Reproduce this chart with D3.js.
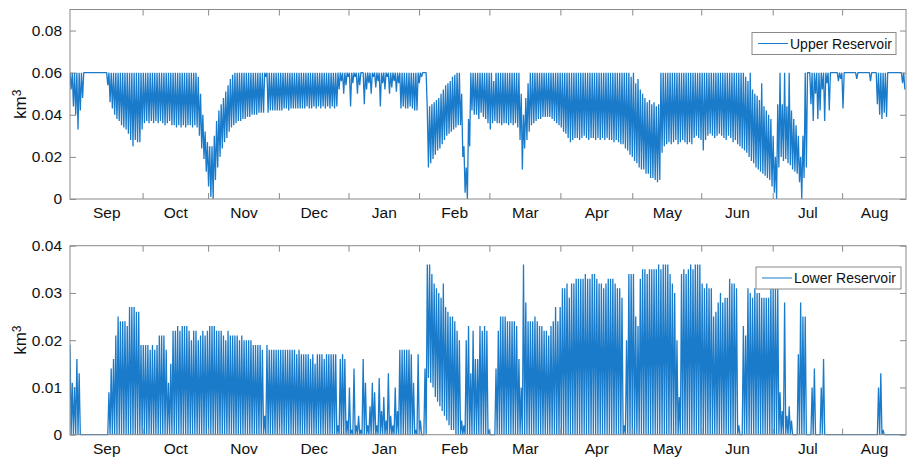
<!DOCTYPE html>
<html><head><meta charset="utf-8">
<script src="https://cdn.jsdelivr.net/npm/d3@7"></script>
<style>
body{margin:0;background:#fff}
svg{display:block}
text{font-family:"Liberation Sans",Arial,Helvetica,sans-serif;fill:#111}
</style>
</head><body>
<svg id="c" width="907" height="462"></svg>
<script>
// ---- data (storage volumes, in units of 0.001 km³; one daily max / min per day, day 0 … 364) ----
const UNIT = 0.001;
const monthLabels = ["Sep","Oct","Nov","Dec","Jan","Feb","Mar","Apr","May","Jun","Jul","Aug"];
const monthTicks = [31.7, 60.3, 91.2, 121.6, 152.4, 183.1, 214.1, 245.5, 275.6, 306.8, 337.1];
const upperTicks = [0, 0.02, 0.04, 0.06, 0.08];
const lowerTicks = [0, 0.01, 0.02, 0.03, 0.04];

const upperMax = [
60,60,60,60,60,60,60,60,60,60, 60,60,60,60,60,60,60,60,60,60,
60,60,60,60,60,60,60,60,60,60, 60,60,60,60,60,60,60,60,60,60,
60,60,60,60,60,60,60,60,60,60, 60,60,60,60,60,60,58,50,40,32,
27,25,25,30,37,42,45,48,51,54, 57,59,60,60,60,60,60,60,60,60,
60,60,60,60,60,60,60,60,60,60, 60,60,60,60,60,60,60,60,60,60,
60,60,60,60,60,60,60,60,60,60, 60,60,60,60,60,60,60,60,60,60,
60,60,60,60,60,60,60,60,60,60, 60,60,60,60,60,60,60,60,60,60,
60,60,60,60,60,60,60,60,60,60, 60,60,60,60,60,60,42,44,45,46,
47,48,50,52,54,55,56,58,59,60, 60,50,25,15,38,60,60,60,60,60,
60,60,60,60,60,56,60,60,60,60, 60,60,60,60,60,60,60,50,40,48,
55,60,60,60,60,60,60,60,60,60, 60,60,60,60,60,60,60,60,60,60,
60,60,60,60,60,60,60,60,60,60, 60,60,60,60,60,60,60,60,60,60,
60,60,60,60,60,58,60,55,57,52, 50,48,46,47,45,46,44,45,60,60,
60,60,60,60,60,60,60,60,60,60, 60,60,60,60,60,60,60,60,60,60,
60,60,60,60,60,60,60,60,60,60, 60,60,60,60,60,58,56,60,52,50,
49,47,55,44,42,40,38,30,20,45, 60,45,60,44,60,42,38,35,30,20,
30,60,60,60,60,60,60,60,60,60, 60,60,60,60,60,60,60,60,60,60,
60,60,60,60,60,60,60,60,60,60, 60,60,60,60,60,60,60,60,60,60,
60,60,60,60,60
];
const upperMin = [
52,44,40,33,42,48,60,60,60,60, 60,60,60,60,60,60,54,46,43,40,
38,37,35,34,33,31,28,25,28,27, 27,33,36,37,36,37,36,37,36,37,
36,35,36,37,35,35,34,35,34,35, 34,35,35,34,35,34,30,24,19,13,
6,1,0,9,15,20,24,27,29,32,     34,35,36,37,37,38,38,39,39,40,
40,40,41,41,41,58,41,42,42,42, 42,42,42,43,43,42,43,43,43,43,
43,43,43,44,43,43,44,43,44,43, 44,43,44,43,44,43,44,52,56,50,
54,58,44,55,58,50,54,60,45,52, 55,50,58,53,56,44,55,52,58,50,
53,56,51,55,43,44,43,43,44,43, 42,42,55,58,60,60,15,17,19,21,
23,24,26,28,30,31,32,33,34,35, 35,20,3,0,25,42,40,40,38,41,
39,38,36,33,36,37,36,36,35,36, 36,35,36,35,36,34,28,14,24,28,
32,35,36,37,38,38,39,39,39,39, 38,37,36,35,34,32,31,29,27,28,
29,29,28,29,30,29,28,29,29,28, 29,28,29,28,29,28,28,27,28,27,
26,26,24,23,21,20,18,17,15,14, 14,12,12,10,10,9,8,9,22,25,
26,27,26,27,28,26,27,28,27,26, 27,26,29,30,29,28,23,28,30,31,
30,29,30,31,30,29,28,30,29,27, 28,26,25,24,23,22,20,18,17,15,
14,13,12,11,10,9,6,3,0,15,     20,18,19,17,16,14,13,12,8,0,
10,15,60,45,37,50,38,42,52,37, 55,42,60,60,60,56,57,43,60,60,
60,60,60,57,60,60,60,60,60,56, 60,60,45,40,38,41,39,60,60,60,
60,60,60,55,52
];
const lowerMax = [
19,11,10,16,13,0,0,0,0,0,      0,0,0,0,0,0,0,9,14,16,
21,25,24,24,24,23,27,27,27,26, 26,19,19,19,19,18,19,18,19,21,
21,21,18,11,15,22,22,23,22,23, 23,23,22,20,22,22,20,21,22,21,
22,23,23,23,22,22,22,21,20,22, 21,21,21,21,20,21,20,20,20,20,
19,19,19,19,18,4,19,18,18,18,  18,18,18,18,18,18,18,18,18,17,
18,17,17,17,17,16,17,15,17,17, 17,16,17,17,17,17,17,2,16,17,
16,3,10,1,14,2,4,1,16,11,      2,6,11,9,2,12,5,8,3,13,
4,2,10,5,18,18,18,18,18,17,    11,1,17,3,0,14,36,36,34,32,
31,30,29,32,27,26,25,25,24,22, 20,3,2,20,23,13,22,16,16,23,
22,23,22,1,0,0,14,22,25,25,    25,24,24,24,24,23,16,10,36,28,
24,24,24,25,24,23,23,22,22,21, 23,24,27,24,27,31,31,32,29,32,
32,33,33,33,33,34,33,33,34,34, 33,32,32,31,32,33,33,33,32,31,
31,29,2,20,34,34,34,25,23,33,  35,35,34,35,35,35,35,36,35,36,
36,36,34,32,30,20,8,34,35,34,  35,36,35,36,36,36,32,31,32,31,
31,25,26,28,30,28,29,29,33,32, 32,31,2,0,23,21,31,30,29,31,
30,30,29,29,29,29,31,31,31,31, 9,5,28,4,6,3,0,0,17,28,
25,25,0,0,10,14,0,0,10,16,     0,0,0,0,0,0,0,0,0,0,
0,0,0,0,0,0,0,0,0,0,           0,0,0,10,13,1,0,0,0,0,
0,0,0,0,0
];
const lowerMin = [
0,0,0,0,0,0,0,0,0,0, 0,0,0,0,0,0,0,0,0,0,
0,0,0,0,0,0,0,0,0,0, 0,0,0,0,0,0,0,0,0,0,
0,0,0,0,0,0,0,0,0,0, 0,0,0,0,0,0,0,0,0,0,
0,0,0,0,0,0,0,0,0,0, 0,0,0,0,0,0,0,0,0,0,
0,0,0,0,0,0,0,0,0,0, 0,0,0,0,0,0,0,0,0,0,
0,0,0,0,0,0,0,0,0,0, 0,0,0,0,0,0,0,0,0,0,
0,0,0,0,0,0,0,0,0,0, 0,0,0,0,0,0,0,0,0,0,
0,0,0,0,0,0,0,0,0,0, 0,0,0,0,0,0,12,11,10,8,
7,6,5,4,3,2,1,1,0,0, 0,0,0,0,0,0,0,0,0,0,
0,0,0,0,0,0,0,0,0,0, 0,0,0,0,0,0,0,0,0,0,
0,0,0,0,0,0,0,0,0,0, 0,0,0,0,0,0,0,0,0,0,
0,0,0,0,0,0,0,0,0,0, 0,0,0,0,0,0,0,0,0,0,
0,0,0,0,0,0,0,0,0,0, 0,0,0,0,0,0,0,0,0,0,
0,0,0,0,0,0,0,0,0,0, 0,0,0,0,0,0,0,0,0,0,
0,0,0,0,0,0,0,0,0,0, 0,0,0,0,0,0,0,0,0,0,
0,0,0,0,0,0,0,0,0,0, 0,0,0,0,0,0,0,0,0,0,
0,0,0,0,0,0,0,0,0,0, 0,0,0,0,0,0,0,0,0,0,
0,0,0,0,0,0,0,0,0,0, 0,0,0,0,0,0,0,0,0,0,
0,0,0,0,0
];

// ---- drawing ----
const svg = d3.select("#c");
const W_LEFT = 70, W_RIGHT = 906, NDAYS = 365;
const AX = "#8a8a8a", BLUE = "#1a7bca";

function panel(id, cfg) {
  const x = d3.scaleLinear().domain([0, NDAYS]).range([W_LEFT, W_RIGHT]);
  const y = d3.scaleLinear().domain([0, cfg.ymax]).range([cfg.bottom, cfg.top]);
  const g = svg.append("g");

  g.append("clipPath").attr("id", id).append("rect")
    .attr("x", W_LEFT).attr("y", cfg.top - 1).attr("width", W_RIGHT - W_LEFT).attr("height", cfg.bottom - cfg.top + 2);

  const pts = [];
  cfg.hi.forEach((v, i) => { pts.push([i, v * UNIT]); pts.push([i + 0.5, cfg.lo[i] * UNIT]); });
  g.append("path").datum(pts)
    .attr("clip-path", `url(#${id})`)
    .attr("fill", "none").attr("stroke", BLUE).attr("stroke-width", 1.3).attr("stroke-linejoin", "bevel")
    .attr("d", d3.line().x(d => x(d[0])).y(d => y(d[1])));

  // box
  g.append("rect").attr("x", W_LEFT).attr("y", cfg.top).attr("width", W_RIGHT - W_LEFT).attr("height", cfg.bottom - cfg.top)
    .attr("fill", "none").attr("stroke", AX).attr("stroke-width", 1);

  const style = fs => sel => { sel.select(".domain").remove(); sel.selectAll("line").attr("stroke", AX); sel.selectAll("text").attr("font-size", fs).attr("fill", "#111"); };
  g.append("g").attr("transform", `translate(${W_LEFT},0)`)
    .call(d3.axisLeft(y).tickValues(cfg.yTicks).tickSize(-6).tickPadding(8).tickFormat(d3.format("~g"))).call(style("15.5px"));
  g.append("g").attr("transform", `translate(${W_RIGHT},0)`)
    .call(d3.axisRight(y).tickValues(cfg.yTicks).tickSize(-6).tickFormat("")).call(style("15px"));
  g.append("g").attr("transform", `translate(0,${cfg.bottom})`)
    .call(d3.axisBottom(x).tickValues(monthTicks).tickSize(-6).tickFormat("")).call(style("15px"));
  g.append("g").attr("transform", `translate(0,${cfg.top})`)
    .call(d3.axisTop(x).tickValues(monthTicks).tickSize(-6).tickFormat("")).call(style("15px"));

  // month labels centred between tick marks
  const edges = [0, ...monthTicks, NDAYS];
  const mids = monthLabels.map((m, i) => (edges[i] + edges[i + 1]) / 2);
  g.append("g").attr("transform", `translate(0,${cfg.bottom})`)
    .call(d3.axisBottom(x).tickValues(mids).tickSize(0).tickPadding(8).tickFormat((d, i) => monthLabels[i]))
    .call(style("15.5px"));

  // y label km³
  const yl = g.append("text").attr("transform", `translate(26,${(cfg.top + cfg.bottom) / 2}) rotate(-90)`)
    .attr("text-anchor", "middle").attr("font-size", "17px");
  yl.append("tspan").text("km");
  yl.append("tspan").attr("dy", "-0.45em").attr("font-size", "12px").text("3");

  // legend
  const L = cfg.legend;
  g.append("rect").attr("x", L.x).attr("y", L.y).attr("width", L.w).attr("height", L.h)
    .attr("fill", "#fff").attr("stroke", AX).attr("stroke-width", 1);
  g.append("line").attr("x1", L.x + 6).attr("x2", L.x + 36).attr("y1", L.y + L.h / 2).attr("y2", L.y + L.h / 2)
    .attr("stroke", BLUE).attr("stroke-width", 1);
  g.append("text").attr("x", L.x + 38).attr("y", L.y + L.h / 2).attr("dy", "0.36em")
    .attr("font-size", "14px").text(L.label);
}

panel("clipU", { top: 9.5, bottom: 199, ymax: 0.09, yTicks: upperTicks, hi: upperMax, lo: upperMin,
  legend: { x: 752, y: 32.5, w: 144, h: 22, label: "Upper Reservoir" } });
panel("clipL", { top: 245.7, bottom: 434.7, ymax: 0.04, yTicks: lowerTicks, hi: lowerMax, lo: lowerMin,
  legend: { x: 756, y: 267, w: 145, h: 22, label: "Lower Reservoir" } });
</script>
</body></html>
